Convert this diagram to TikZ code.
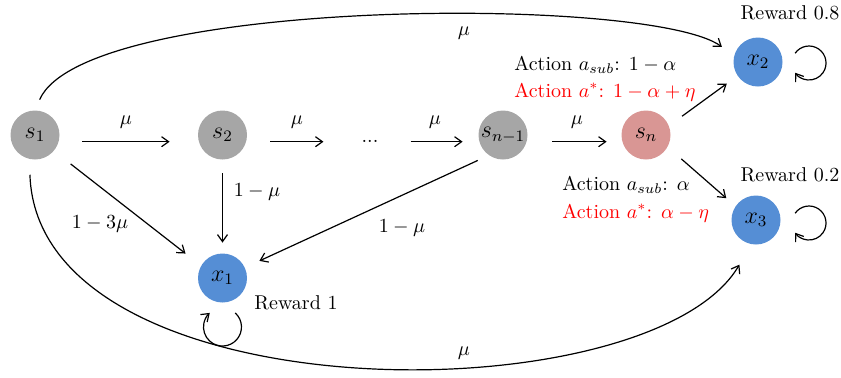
\documentclass[tikz,border=0pt]{standalone}
\usepackage{amsmath}
\usepackage{tikz}
\usetikzlibrary{positioning}
\usetikzlibrary{calc}
\usetikzlibrary{arrows.meta}

\definecolor{stategray}{HTML}{A6A6A6}
\definecolor{statepink}{HTML}{D99694}
\definecolor{termblue}{HTML}{558ED5}

\begin{document}
\begin{tikzpicture}[x=0.5pt, y=0.5pt,
        ST/.style={circle, fill=stategray, minimum size=24.5pt, inner sep=0pt, font=\large},
        TERM/.style={ST, fill=termblue},
        TR/.style={-{Straight Barb[length=3.5pt,width=5pt]}, line width=0.6pt},
        LBL/.style={inner sep=1pt},
        ]
            \useasboundingbox (0,0) rectangle (841,377);

            % states
            \node[ST] (S1) at (35,242) {$s_1$};
            \node[ST] (S2) at (222.5,242) {$s_2$};
            \node[inner sep=0pt] (Dots) at (370,235.3) {...};
            \node[ST] (Sn1) at (503,242) {$s_{n-1}$};
            \node[ST, fill=statepink] (Sn) at (646,242) {$s_n$};
            \node[TERM] (X1) at (222.5,99) {$x_1$};
            \node[TERM] (X2) at (758,315) {$x_2$};
            \node[TERM] (X3) at (756,157) {$x_3$};

            % chain
            \draw[TR, shorten <=11.25pt, shorten >=14pt] ([yshift=-3.35pt]S1.east) -- ([yshift=-3.35pt]S2.west);
            \draw[TR, shorten <=11.5pt, shorten >=18.9pt] ([yshift=-3.35pt]S2.east) -- (Dots.west);
            \draw[TR, shorten <=15.9pt, shorten >=7.75pt] (Dots.east) -- ([yshift=-3.35pt]Sn1.west);
            \draw[TR, shorten <=12.25pt, shorten >=7.25pt] ([yshift=-3.35pt]Sn1.east) -- ([yshift=-3.35pt]Sn.west);
            \node[LBL] (M1) at (126,255) {$\mu$};
            \node[LBL] (M2) at (297,255) {$\mu$};
            \node[LBL] (M3) at (435,255) {$\mu$};
            \node[LBL] (M4) at (577,255) {$\mu$};

            % to x1
            \draw[TR, shorten <=10.5pt, shorten >=9.75pt] (S1.-40) -- (X1.150);
            \draw[TR, shorten <=6.75pt, shorten >=5.25pt] (S2.south) -- (X1.north);
            \draw[TR, shorten <=6pt, shorten >=7.9pt] (Sn1.235) -- (X1.25);
            \node[LBL] (L1) at (100,153) {$1-3\mu$};
            \node[LBL] (L2) at (257,185) {$1-\mu$};
            \node[LBL] (L3) at (402,149) {$1-\mu$};

            % from s_n
            \draw[TR, shorten <=8pt, shorten >=6.5pt] (Sn.22) -- (X2.214);
            \draw[TR, shorten <=9pt, shorten >=6pt] (Sn.-29) -- (X3.146);
            \node[LBL, anchor=west] (A1) at (512,312) {Action $a_{sub}$: $1-\alpha$};
            \node[LBL, anchor=west, text=red] (A2) at (512,285) {Action $a^{*}$: $1-\alpha+\eta$};
            \node[LBL, anchor=west] (A3) at (560,192) {Action $a_{sub}$: $\alpha$};
            \node[LBL, anchor=west, text=red] (A4) at (560,164) {Action $a^{*}$: $\alpha-\eta$};

            % long jumps
            \draw[TR, shorten <=5.75pt, shorten >=7.4pt] (S1.north) .. controls (85,380) and (650,382) .. (X2.165);
            \draw[TR, shorten <=7.75pt, shorten >=11.7pt] (S1.257) .. controls (38,-40) and (650,-40) .. (X3.259);
            \node[LBL] (M5) at (464,344) {$\mu$};
            \node[LBL] (M6) at (464,24) {$\mu$};

            % absorbing loops
            \draw[TR] ([shift={(12.7,-34.9)}]X1.center) arc[start angle=48, end angle=-228, radius=19];
            \draw[TR] ([shift={(37.1,8.75)}]X2.center) arc[start angle=145, end angle=-145, radius=17];
            \draw[TR] ([shift={(39.1,6.75)}]X3.center) arc[start angle=145, end angle=-145, radius=17];
            \node[LBL] (R1) at (296,74) {Reward 1};
            \node[LBL] (R2) at (790,364) {Reward 0.8};
            \node[LBL] (R3) at (790,202) {Reward 0.2};
        \end{tikzpicture}
\end{document}
